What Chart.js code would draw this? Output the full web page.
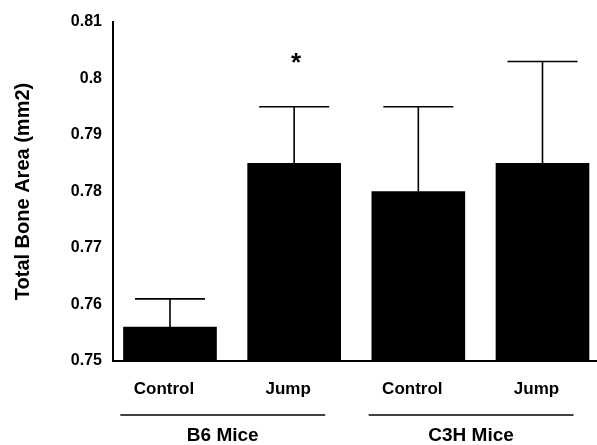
<!DOCTYPE html>
<html>
<head>
<meta charset="utf-8">
<script src="https://cdn.jsdelivr.net/npm/chart.js@4"></script>
<style>
html, body { margin: 0; padding: 0; background: #fff; overflow: hidden; }
#wrap { width: 597px; height: 445px; }
</style>
</head>
<body>
<div id="wrap"><canvas id="chart"></canvas></div>
<script>
const groups = ['B6 Mice', 'C3H Mice'];
const categories = ['Control', 'Jump', 'Control', 'Jump'];
const groupOf = [0, 0, 1, 1];
const boneArea = [0.756, 0.785, 0.780, 0.785];
const boneAreaErr = [0.005, 0.010, 0.015, 0.018];
const sigMarks = ['', '*', '', ''];
const yTicks = [0.75, 0.76, 0.77, 0.78, 0.79, 0.8, 0.81];

const FONT = "'Liberation Sans', Arial, sans-serif";

// error bars, significance star and the strain grouping under the x axis
const annotate = {
    id: 'annotate',
    afterDatasetsDraw(chart) {
        const ctx = chart.ctx;
        const yScale = chart.scales.y;
        const xScale = chart.scales.x;
        const meta = chart.getDatasetMeta(0);
        ctx.save();
        ctx.strokeStyle = '#000';
        ctx.fillStyle = '#000';
        ctx.lineWidth = 1.6;
        meta.data.forEach((bar, i) => {
            const top = yScale.getPixelForValue(boneArea[i] + boneAreaErr[i]);
            ctx.beginPath();
            ctx.moveTo(bar.x, bar.y);
            ctx.lineTo(bar.x, top);
            ctx.moveTo(bar.x - 35, top);
            ctx.lineTo(bar.x + 35, top);
            ctx.stroke();
            if (sigMarks[i]) {
                ctx.font = 'bold 26px ' + FONT;
                ctx.textAlign = 'center';
                ctx.textBaseline = 'middle';
                ctx.fillText(sigMarks[i], bar.x + 2, top - 43);
            }
        });

        const step = xScale.getPixelForValue(1) - xScale.getPixelForValue(0);
        groups.forEach((g, gi) => {
            const idx = groupOf.map((v, i) => v === gi ? i : -1).filter(i => i >= 0);
            const x0 = xScale.getPixelForValue(idx[0]) - 0.4 * step;
            const x1 = xScale.getPixelForValue(idx[idx.length - 1]) + 0.25 * step;
            ctx.lineWidth = 1.5;
            ctx.beginPath();
            ctx.moveTo(x0, 415);
            ctx.lineTo(x1, 415);
            ctx.stroke();
            ctx.font = 'bold 19px ' + FONT;
            ctx.textAlign = 'center';
            ctx.textBaseline = 'middle';
            ctx.fillText(g, (x0 + x1) / 2, 436);
        });
        ctx.restore();
    }
};

const ctx = document.getElementById('chart').getContext('2d');
new Chart(ctx, {
    type: 'bar',
    data: {
        datasets: [{
            data: boneArea.map((v, i) => ({ x: i, y: v })),
            backgroundColor: '#000',
            borderWidth: 0,
            barThickness: 93
        }]
    },
    options: {
        responsive: true,
        maintainAspectRatio: false,
        animation: false,
        layout: { padding: { top: 22, right: 0, bottom: 0, left: 0 } },
        plugins: {
            legend: { display: false },
            tooltip: { enabled: false }
        },
        scales: {
            x: {
                type: 'linear',
                offset: false,
                min: -0.459,
                max: 3.439,
                grid: { display: false, drawTicks: false },
                border: { display: true, color: '#000', width: 2 },
                afterBuildTicks: s => { s.ticks = categories.map((c, i) => ({ value: i })); },
                afterFit: s => { s.height = 84; },
                ticks: {
                    padding: 18,
                    labelOffset: -6,
                    color: '#000',
                    font: { family: FONT, size: 17, weight: 'bold' },
                    callback: v => categories[v] || ''
                }
            },
            y: {
                min: 0.75,
                max: 0.81,
                grid: { display: false, drawTicks: false },
                border: { display: true, color: '#000', width: 2 },
                afterBuildTicks: s => { s.ticks = yTicks.map(v => ({ value: v })); },
                afterFit: s => { s.width = 113; },
                ticks: {
                    padding: 11,
                    color: '#000',
                    font: { family: FONT, size: 16, weight: 'bold' },
                    callback: v => String(+v.toFixed(2))
                },
                title: {
                    display: true,
                    text: 'Total Bone Area (mm2)',
                    color: '#000',
                    padding: { top: 11, bottom: 0 },
                    font: { family: FONT, size: 20, weight: 'bold' }
                }
            }
        }
    },
    plugins: [annotate]
});
</script>
</body>
</html>
